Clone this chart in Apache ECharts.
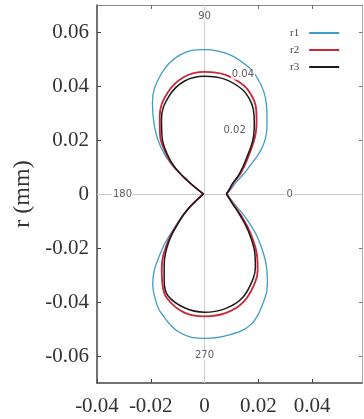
<!DOCTYPE html>
<html>
<head>
<meta charset="utf-8">
<script src="https://cdn.jsdelivr.net/npm/echarts@6/dist/echarts.min.js"></script>
<style>
  html, body { margin: 0; padding: 0; background: #fff; }
  #polarChart { width: 364px; height: 419px; }
</style>
</head>
<body>
<div id="polarChart"></div>
<script>
// polar angle (deg) and radius (mm)
var angles = [0, 10, 20, 30, 40, 50, 55, 60, 65, 70, 80, 90, 100, 110, 120, 127, 133, 138, 142, 180,
  222, 227, 233, 240, 245, 250, 260, 270, 280, 290, 300, 305, 310, 320, 330, 340, 350, 360];
var r1 = [0.0083, 0.0099, 0.0125, 0.0185, 0.0287, 0.0362, 0.0402, 0.0440, 0.0470, 0.0495, 0.0525, 0.0535,
  0.0523, 0.0472, 0.0388, 0.0308, 0.0240, 0.0172, 0.0085, 0.0004,
  0.0085, 0.0150, 0.0270, 0.0385, 0.0432, 0.0470, 0.0522, 0.0535,
  0.0530, 0.0512, 0.0448, 0.0408, 0.0360, 0.0262, 0.0178, 0.0123, 0.0097, 0.0083];
var r2 = [0.0082, 0.0095, 0.0113, 0.0156, 0.0212, 0.0297, 0.0338, 0.0380, 0.0408, 0.0428, 0.0448, 0.0452,
  0.0440, 0.0400, 0.0333, 0.0275, 0.0215, 0.0158, 0.0082, 0.0004,
  0.0082, 0.0140, 0.0232, 0.0318, 0.0370, 0.0410, 0.0445, 0.0453,
  0.0448, 0.0425, 0.0377, 0.0345, 0.0305, 0.0222, 0.0156, 0.0115, 0.0095, 0.0082];
var r3 = [0.0081, 0.0093, 0.0110, 0.0150, 0.0203, 0.0285, 0.0323, 0.0363, 0.0392, 0.0412, 0.0432, 0.0436,
  0.0425, 0.0386, 0.0320, 0.0262, 0.0205, 0.0150, 0.0080, 0.0004,
  0.0080, 0.0135, 0.0220, 0.0300, 0.0355, 0.0400, 0.0428, 0.0438,
  0.0432, 0.0410, 0.0362, 0.0330, 0.0292, 0.0212, 0.0150, 0.0112, 0.0093, 0.0081];
var xTicks = [-0.04, -0.02, 0, 0.02, 0.04];
var yTicks = [-0.06, -0.04, -0.02, 0, 0.02, 0.04, 0.06];
// labels of the polar grid: text, x, y
var polarLabels = [
  ["90", 0, 0.0658],
  ["180", -0.0305, 0],
  ["0", 0.0317, 0],
  ["270", 0, -0.0597],
  ["0.04", 0.0143, 0.0442],
  ["0.02", 0.0112, 0.0236]
];

// polar -> cartesian, between two angle indices (both included)
function toXY(r, from, to) {
  var pts = [];
  for (var i = from; i <= to; i++) {
    var a = angles[i] * Math.PI / 180;
    pts.push([r[i] * Math.cos(a), r[i] * Math.sin(a)]);
  }
  return pts;
}

var half = angles.indexOf(180);
var last = angles.length - 1;
var serif = "Liberation Serif";

// each curve is drawn as upper and lower half so the cusps stay sharp
function curve(name, r, color, width) {
  var base = {
    name: name,
    type: "line",
    symbol: "none",
    smooth: 0.4,
    lineStyle: { color: color, width: width },
    itemStyle: { color: color }
  };
  return [
    Object.assign({}, base, { data: toXY(r, 0, half) }),
    Object.assign({}, base, { data: toXY(r, half, last) })
  ];
}

var series = [].concat(
  curve("r1", r1, "#3d9cc8", 1.3),
  curve("r2", r2, "#c8283a", 1.8),
  curve("r3", r3, "#1a1a1a", 1.5)
);
series[0].markLine = {
  silent: true,
  symbol: "none",
  label: { show: false },
  lineStyle: { color: "#cccccc", width: 1, type: "solid" },
  data: [{ xAxis: 0 }, { yAxis: 0 }],
  z: 1
};
series.push({
  type: "scatter",
  symbolSize: 0,
  silent: true,
  z: 5,
  label: {
    show: true,
    position: "inside",
    formatter: function (p) { return p.value[2]; },
    fontFamily: "DejaVu Sans",
    fontSize: 10,
    color: "#333",
    backgroundColor: "#fff",
    padding: [0, 1]
  },
  data: polarLabels.map(function (d) { return [d[1], d[2], d[0]]; })
});

var chart = echarts.init(document.getElementById("polarChart"));
var option = {
  animation: false,
  grid: { left: 97, top: 5, width: 265, height: 378 },
  legend: {
    orient: "vertical",
    left: 285,
    top: 22,
    align: "right",
    icon: "rect",
    itemWidth: 30,
    itemHeight: 2,
    itemGap: 5,
    textStyle: { fontFamily: serif, fontSize: 11, color: "#444", lineHeight: 12, padding: [0, 5, 0, 0] },
    data: ["r1", "r2", "r3"]
  },
  xAxis: [
    {
      type: "value",
      position: "bottom",
      min: -0.04,
      max: 0.0586,
      axisLine: { show: true, onZero: false, lineStyle: { color: "#444", width: 1.5 } },
      axisTick: { show: true, inside: true, length: 4, customValues: xTicks, lineStyle: { color: "#444" } },
      axisLabel: { customValues: xTicks, fontFamily: serif, fontSize: 21, color: "#333", margin: 13 },
      splitLine: { show: false }
    },
    {
      type: "value",
      position: "top",
      min: -0.04,
      max: 0.0586,
      axisLine: { show: true, onZero: false, lineStyle: { color: "#888", width: 1 } },
      axisTick: { show: true, inside: true, length: 4, customValues: xTicks, lineStyle: { color: "#666" } },
      axisLabel: { show: false },
      splitLine: { show: false }
    }
  ],
  yAxis: [
    {
      type: "value",
      position: "left",
      min: -0.07,
      max: 0.07,
      name: "r (mm)",
      nameLocation: "middle",
      nameGap: 60,
      nameTextStyle: { fontFamily: serif, fontSize: 24, color: "#333" },
      axisLine: { show: true, onZero: false, lineStyle: { color: "#444", width: 1.5 } },
      axisTick: { show: true, inside: true, length: 4, customValues: yTicks, lineStyle: { color: "#444" } },
      axisLabel: { customValues: yTicks, fontFamily: serif, fontSize: 21, color: "#333", margin: 8 },
      splitLine: { show: false }
    },
    {
      type: "value",
      position: "right",
      min: -0.07,
      max: 0.07,
      axisLine: { show: true, onZero: false, lineStyle: { color: "#aaa", width: 1 } },
      axisTick: { show: true, inside: true, length: 3, customValues: yTicks, lineStyle: { color: "#777" } },
      axisLabel: { show: false },
      splitLine: { show: false }
    }
  ],
  series: series
};
chart.setOption(option);
</script>
</body>
</html>
